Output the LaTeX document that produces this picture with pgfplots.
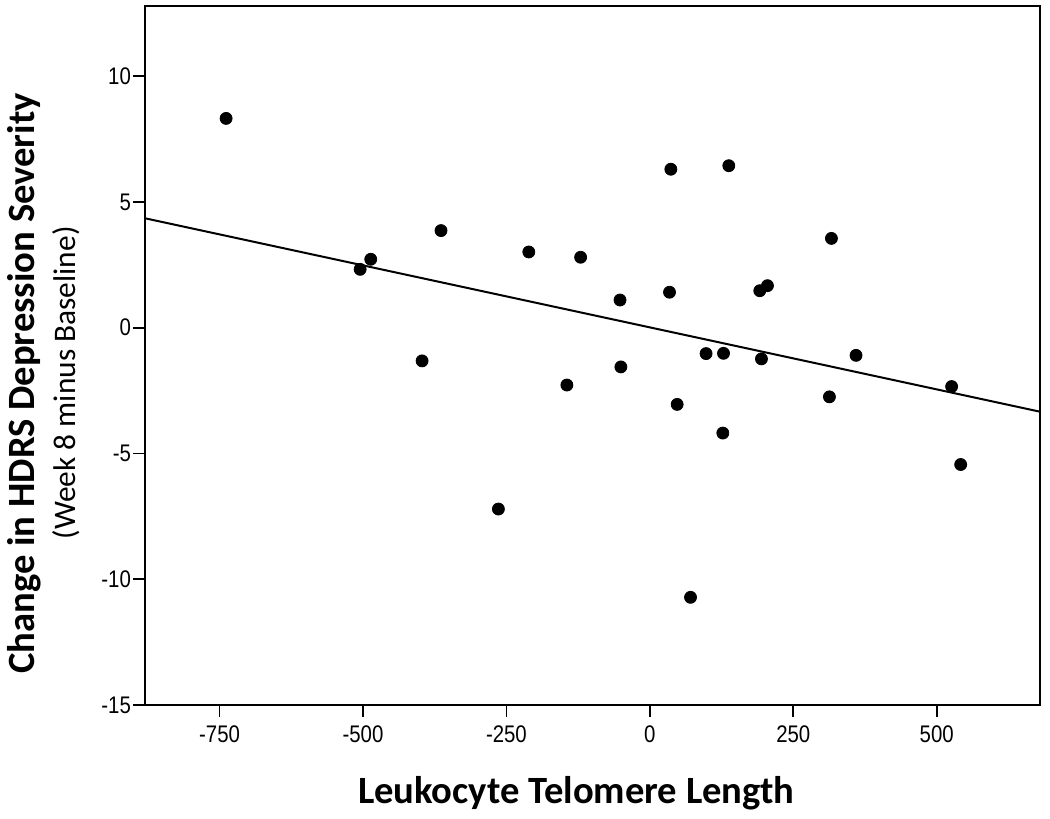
\documentclass[border=0pt]{standalone}
\usepackage{pgfplots}
\pgfplotsset{compat=1.18}
\usepackage{fontspec}
\setmainfont{Carlito}
\newfontfamily\narrow{Liberation Sans}[FakeStretch=0.85]

\begin{document}
\begin{tikzpicture}
  \begin{axis}[
      scale only axis,
      width=447.5pt, height=349.5pt,
      xmin=-880, xmax=680,
      ymin=-15, ymax=12.79,
      xtick={-750,-500,-250,0,250,500},
      xticklabels={-750,-500,-250,0,250,500},
      ytick={-15,-10,-5,0,5,10},
      yticklabels={-15,-10,-5,0,5,10},
      tick align=outside,
      tick pos=left,
      major tick length=6pt,
      tick style={line width=0.9pt, black},
      axis line style={line width=0.9pt},
      ticklabel style={font=\narrow\fontsize{12}{14}\selectfont},
      xticklabel style={yshift=-1pt},
      yticklabel style={xshift=2.5pt},
      clip=false,
    ]

    % observations
    \addplot[only marks, mark=*, mark size=3pt, black] coordinates {
        (-738.6, 8.32) (-505, 2.32) (-486.5, 2.72) (-364, 3.86)
        (-397, -1.32) (-264, -7.21) (-211, 3.01) (-120.7, 2.80)
        (-144.6, -2.28) (-52, 1.10) (-50.5, -1.56) (36.6, 6.30)
        (34.3, 1.41) (47.6, -3.05) (70.9, -10.72) (98, -1.03)
        (128.4, -1.02) (127.2, -4.19) (137.6, 6.44) (191.6, 1.47)
        (205, 1.67) (194.5, -1.24) (316.5, 3.55) (313, -2.75)
        (359.4, -1.10) (526, -2.34) (541.8, -5.44)
      };

    % fit line
    \addplot[black, line width=1pt] coordinates {(-880, 4.35) (680, -3.34)};

    \node[rotate=90, font=\bfseries\fontsize{19.3}{22}\selectfont]
      at (rel axis cs:-0.135,0.46) {Change in HDRS Depression Severity};
    \node[rotate=90, font=\fontsize{15.7}{18}\selectfont]
      at (rel axis cs:-0.088,0.461) {(Week 8 minus Baseline)};
    \node[font=\bfseries\fontsize{19.3}{22}\selectfont]
      at (rel axis cs:0.482,-0.126) {Leukocyte Telomere Length};

    \coordinate (bl) at (rel axis cs:-0.162,-0.1631);
    \coordinate (tr) at (rel axis cs:1.0112,1.00858);
  \end{axis}
  \path (bl) rectangle (tr);
\end{tikzpicture}
\end{document}
